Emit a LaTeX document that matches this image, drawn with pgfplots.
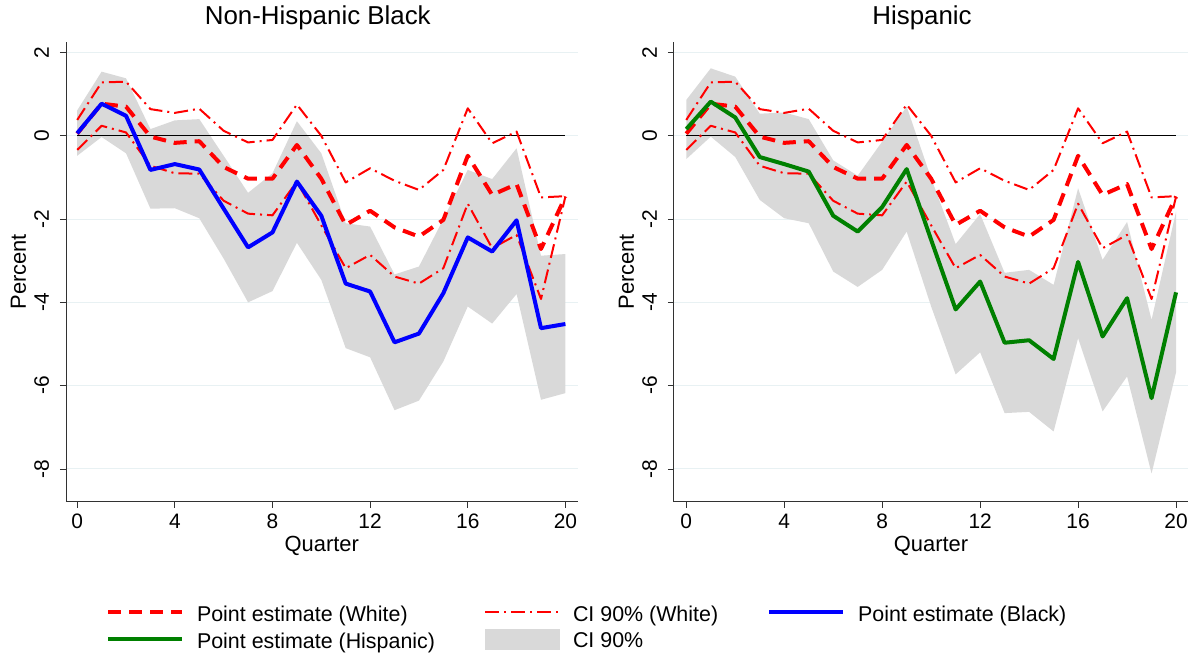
\documentclass[border=0pt]{standalone}
\usepackage{fontspec}
\setmainfont{Liberation Sans}
\usepackage{pgfplots}
\pgfplotsset{compat=1.18}
\usepackage{pgfplotstable}
\usepgfplotslibrary{fillbetween}

\definecolor{bandgray}{RGB}{217,217,217}
\definecolor{gridc}{RGB}{232,241,243}
\definecolor{stgreen}{RGB}{0,128,0}
\definecolor{axgray}{RGB}{50,50,50}

\pgfplotstableread{
q wpt wup wlo bpt bup blo hpt hup hlo
0 0.05 0.38 -0.34 0.06 0.61 -0.48 0.16 0.86 -0.56
1 0.77 1.28 0.24 0.77 1.54 -0.03 0.82 1.62 -0.02
2 0.70 1.30 0.08 0.48 1.38 -0.42 0.44 1.42 -0.51
3 -0.02 0.64 -0.72 -0.82 0.16 -1.75 -0.51 0.53 -1.54
4 -0.17 0.55 -0.90 -0.68 0.37 -1.74 -0.68 0.56 -1.98
5 -0.13 0.65 -0.91 -0.81 0.40 -1.98 -0.86 0.40 -2.10
6 -0.75 0.12 -1.56 -1.75 -0.48 -2.95 -1.92 -0.59 -3.26
7 -1.03 -0.16 -1.87 -2.68 -1.37 -4.00 -2.30 -0.96 -3.63
8 -1.03 -0.10 -1.91 -2.32 -0.90 -3.73 -1.71 -0.14 -3.22
9 -0.22 0.75 -1.10 -1.10 0.35 -2.57 -0.80 0.70 -2.30
10 -1.03 0.00 -2.15 -1.92 -0.42 -3.46 -2.50 -1.02 -4.10
11 -2.14 -1.12 -3.18 -3.55 -2.10 -5.10 -4.17 -2.60 -5.73
12 -1.80 -0.78 -2.86 -3.74 -2.18 -5.32 -3.50 -1.88 -5.20
13 -2.20 -1.08 -3.38 -4.96 -3.33 -6.59 -4.97 -3.29 -6.66
14 -2.42 -1.30 -3.55 -4.75 -3.14 -6.36 -4.91 -3.22 -6.63
15 -2.02 -0.82 -3.18 -3.78 -2.00 -5.42 -5.36 -3.58 -7.10
16 -0.48 0.66 -1.63 -2.44 -0.82 -4.10 -3.03 -1.26 -4.86
17 -1.42 -0.18 -2.70 -2.78 -1.04 -4.51 -4.82 -2.98 -6.62
18 -1.16 0.10 -2.38 -2.03 -0.30 -3.80 -3.90 -2.07 -5.78
19 -2.72 -1.48 -3.92 -4.62 -2.88 -6.34 -6.30 -4.42 -8.11
20 -1.46 -1.45 -1.46 -4.52 -2.84 -6.18 -3.76 -1.82 -5.68
}\data

\pgfplotsset{
  panel/.style={
    scale only axis, height=460.3bp,
    ymin=-8.79, ymax=2.26, xmax=20.5,
    axis x line*=bottom, axis y line*=left,
    xtick={0,4,8,12,16,20}, xticklabels={0,4,8,12,16,20},
    ytick={-8,-6,-4,-2,0,2}, yticklabels={-8,-6,-4,-2,0,2},
    tick align=outside, major tick length=6bp,
    tick style={axgray, line width=0.8bp},
    axis line style={axgray, line width=0.8bp},
    ymajorgrids, grid style={gridc, line width=1bp},
    ticklabel style={font=\fontsize{21}{24}\selectfont},
    xticklabel style={anchor=base, yshift=-20.5bp},
    yticklabel style={rotate=90, anchor=base, yshift=11bp},
    xlabel={Quarter}, ylabel={Percent},
    label style={font=\fontsize{22}{26}\selectfont},
    xlabel style={at={(axis description cs:0.5,0)}, anchor=base, yshift=-49.5bp},
    ylabel style={at={(axis description cs:0,0.5)}, anchor=base, yshift=40bp},
    title style={font=\fontsize{26}{30}\selectfont, at={(axis description cs:0.5,1)}, anchor=base, yshift=11bp},
  },
  wpt/.style={red, line width=4bp, dash pattern=on 13bp off 8bp, line join=round},
  wci/.style={red, line width=2bp, dash pattern=on 14bp off 5bp on 2bp off 5bp, line join=round},
}

\begin{document}
\begin{tikzpicture}[x=1bp,y=1bp]
\path (0,0) rectangle (1191,656);

\begin{axis}[panel, at={(66bp,154bp)}, anchor=south west, width=511.8bp, xmin=-0.46,
  title={Non-Hispanic Black}, title style={xshift=-4bp},
  legend columns=3, legend cell align=left,
  legend style={at={(axis description cs:0.078,-0.2735)}, anchor=west, draw=none, fill=none,
    inner sep=0pt, font=\fontsize{21.5}{24}\selectfont, row sep=4bp, nodes={inner sep=2bp},
    /tikz/every odd column/.append style={column sep=11bp},
    /tikz/every even column/.append style={column sep=47bp}},
]
\addplot[draw=none, name path=bu, forget plot] table[x=q,y=bup]{\data};
\addplot[draw=none, name path=bl, forget plot] table[x=q,y=blo]{\data};
\addplot[bandgray, forget plot] fill between[of=bu and bl];
\addplot[black, line width=1.3bp, forget plot] coordinates {(0,0) (20,0)};
\addplot[wpt, forget plot] table[x=q,y=wpt]{\data};
\addplot[wci, forget plot] table[x=q,y=wup]{\data};
\addplot[wci, forget plot] table[x=q,y=wlo]{\data};
\addplot[blue, line width=4bp, line join=round, forget plot] table[x=q,y=bpt]{\data};

\addlegendimage{legend image code/.code={\draw[red, line width=4bp, dash pattern=on 13bp off 8bp] (0bp,2bp) -- (74bp,2bp);}}
\addlegendentry{Point estimate (White)}
\addlegendimage{legend image code/.code={\draw[red, line width=2bp, dash pattern=on 14bp off 5bp on 2bp off 5bp] (0bp,2bp) -- (74bp,2bp);}}
\addlegendentry{CI 90\% (White)}
\addlegendimage{legend image code/.code={\draw[blue, line width=4bp] (0bp,2bp) -- (74bp,2bp);}}
\addlegendentry{Point estimate (Black)}
\addlegendimage{legend image code/.code={\draw[stgreen, line width=4bp] (0bp,2bp) -- (74bp,2bp);}}
\addlegendentry{Point estimate (Hispanic)}
\addlegendimage{legend image code/.code={\fill[bandgray] (0bp,-8bp) rectangle (74bp,12bp);}}
\addlegendentry{CI 90\%}
\end{axis}

\begin{axis}[panel, at={(674bp,154bp)}, anchor=south west, width=514.7bp, xmin=-0.51,
  title={Hispanic}, title style={xshift=-9bp},
]
\addplot[draw=none, name path=hu] table[x=q,y=hup]{\data};
\addplot[draw=none, name path=hl] table[x=q,y=hlo]{\data};
\addplot[bandgray] fill between[of=hu and hl];
\addplot[black, line width=1.3bp] coordinates {(0,0) (20,0)};
\addplot[wpt] table[x=q,y=wpt]{\data};
\addplot[wci] table[x=q,y=wup]{\data};
\addplot[wci] table[x=q,y=wlo]{\data};
\addplot[stgreen, line width=4bp, line join=round] table[x=q,y=hpt]{\data};
\end{axis}
\end{tikzpicture}
\end{document}
